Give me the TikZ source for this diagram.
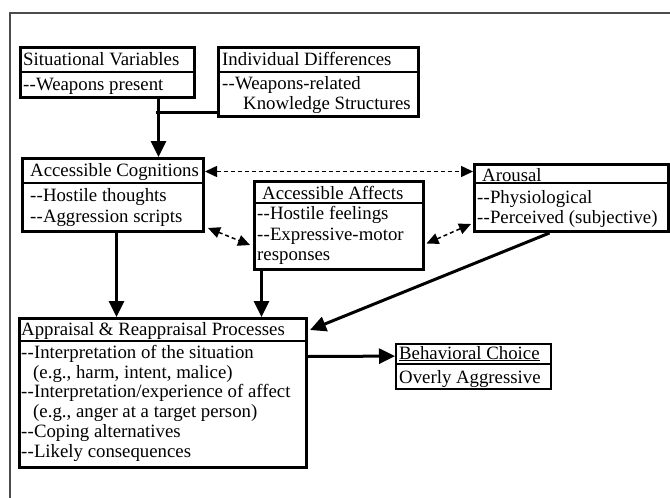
\documentclass[tikz,border=0pt]{standalone}
\usepackage{fontspec}
\setmainfont{Liberation Serif}
\usetikzlibrary{arrows.meta}
\newcommand{\dd}{-\kern0.3pt-}
\begin{document}
\begin{tikzpicture}[x=1pt,y=-1pt,
  box/.style={draw=black, line width=3pt, anchor=north west, inner sep=0pt},
  sepline/.style={draw=black, line width=1.2pt},
  txt/.style={anchor=base west, inner sep=0pt, font=\fontsize{18.8}{21}\selectfont},
  conn/.style={line width=3pt, -{Triangle[length=16pt,width=15pt]}},
  plain/.style={line width=3pt},
  dconn/.style={line width=1.5pt, dash pattern=on 4pt off 3pt, {Triangle[length=12pt,width=11pt]}-{Triangle[length=12pt,width=11pt]}},
  frame/.style={draw=black!70, line width=2pt}
]
\useasboundingbox (0,0) rectangle (670,498);
\draw[frame] (10,498) -- (10,13) -- (670,13);

% Situational Variables
\node[box, minimum width=174pt, minimum height=50pt] (sv) at (19,46) {};
\draw[sepline] (sv.west |- 0,72) -- (sv.east |- 0,72);
\node[txt] (svh) at (23,65) {Situational Variables};
\node[txt] (sv1) at (23,90) {\dd Weapons present};

% Individual Differences
\node[box, minimum width=200pt, minimum height=69pt] (id) at (217,46) {};
\draw[sepline] (id.west |- 0,72) -- (id.east |- 0,72);
\node[txt] (idh) at (222,65) {Individual Differences};
\node[txt] (id1) at (222,89) {\dd Weapons-related};
\node[txt] (id2) at (243,109) {Knowledge Structures};

% Accessible Cognitions
\node[box, minimum width=181pt, minimum height=73pt] (ac) at (21,157) {};
\draw[sepline] (ac.west |- 0,183) -- (ac.east |- 0,183);
\node[txt] (ach) at (30,176) {Accessible Cognitions};
\node[txt] (ac1) at (30,201) {\dd Hostile thoughts};
\node[txt] (ac2) at (30,222) {\dd Aggression scripts};

% Accessible Affects
\node[box, minimum width=169pt, minimum height=88pt] (aa) at (253,180) {};
\draw[sepline] (aa.west |- 0,203) -- (aa.east |- 0,203);
\node[txt] (aah) at (262,199) {Accessible Affects};
\node[txt] (aa1) at (257,219) {\dd Hostile feelings};
\node[txt] (aa2) at (257,240) {\dd Expressive-motor};
\node[txt] (aa3) at (257,260) {responses};

% Arousal
\node[box, minimum width=194pt, minimum height=67pt] (ar) at (473,163) {};
\draw[sepline] (ar.west |- 0,183) -- (ar.east |- 0,183);
\node[txt] (arh) at (482,181) {Arousal};
\node[txt] (ar1) at (477,203) {\dd Physiological};
\node[txt] (ar2) at (477,223) {\dd Perceived (subjective)};

% Appraisal
\node[box, minimum width=287pt, minimum height=149pt] (ap) at (18,317) {};
\draw[sepline] (ap.west |- 0,341) -- (ap.east |- 0,341);
\node[txt] (aph) at (21,335) {Appraisal \& Reappraisal Processes};
\node[txt] (ap1) at (21,358) {\dd Interpretation of the situation};
\node[txt] (ap2) at (33,378) {(e.g., harm, intent, malice)};
\node[txt] (ap3) at (21,397) {\dd Interpretation/experience of affect};
\node[txt] (ap4) at (33,417) {(e.g., anger at a target person)};
\node[txt] (ap5) at (21,437) {\dd Coping alternatives};
\node[txt] (ap6) at (21,457) {\dd Likely consequences};

% Behavioral Choice
\node[box, line width=2.2pt, minimum width=155pt, minimum height=45pt] (bc) at (395,343) {};
\draw[sepline] (bc.west |- 0,364) -- (bc.east |- 0,364);
\node[txt] (bch) at (399,359) {\underline{Behavioral Choice}};
\node[txt] (bc1) at (399,383) {Overly Aggressive};

% connectors
\draw[conn] ([xshift=51pt]sv.south) -- ([xshift=45.5pt]ac.north);
\draw[plain] ([yshift=-30.5pt]id.west) -- ([xshift=-61.5pt,yshift=-30.5pt]id.west);
\draw[dconn] ([yshift=23.5pt]ac.east) -- ([yshift=26.5pt]ar.west);
\draw[dconn] ([shift={(3,-5)}]ac.south east) -- ([shift={(-3,-26)}]aa.south west);
\draw[dconn] ([shift={(1.5,18)}]aa.east) -- ([shift={(-2,-9)}]ar.south west);
\draw[conn] ([xshift=3.5pt]ac.south) -- ([xshift=-46.5pt]ap.north);
\draw[conn] ([xshift=-77.5pt]aa.south) -- ([xshift=98.5pt]ap.north);
\draw[conn] ([xshift=-22pt]ar.south) -- ([shift={(2,13)}]ap.north east);
\draw[conn] ([yshift=36.5pt]ap.east) -- ([yshift=10.5pt]bc.west);
\end{tikzpicture}
\end{document}
